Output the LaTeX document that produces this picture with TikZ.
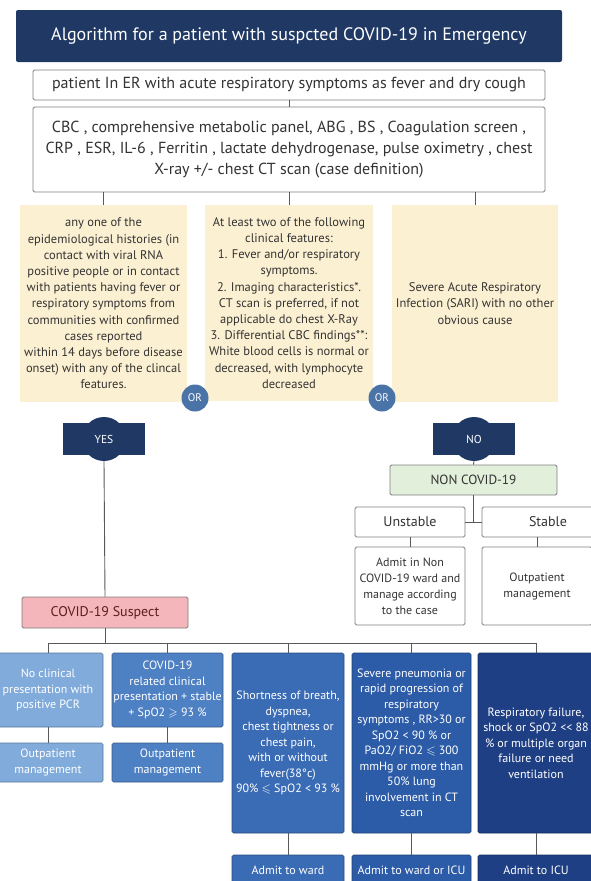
\documentclass[tikz,border=0pt]{standalone}
\usepackage{fontspec}
\usepackage{amssymb}
\setmainfont{PT Sans}
\definecolor{navy}{HTML}{1F3864}
\definecolor{framegray}{HTML}{7F7F7F}
\definecolor{linegray}{HTML}{595959}
\definecolor{textgray}{HTML}{333333}
\definecolor{sand}{HTML}{FCF0D2}
\definecolor{orblue}{HTML}{4A74A8}
\definecolor{suspectpink}{HTML}{F4B6BA}
\definecolor{suspecttext}{HTML}{5C1E1E}
\definecolor{mint}{HTML}{E2EFDA}
\definecolor{blueA}{HTML}{80ABDB}
\definecolor{blueB}{HTML}{4E80C4}
\definecolor{blueC}{HTML}{3A6BB5}
\definecolor{blueD}{HTML}{2C5BA7}
\definecolor{blueE}{HTML}{1F3F85}
\tikzset{
  wh/.style 2 args={minimum width=#1pt, minimum height=#2pt},
  plainbox/.style={draw=framegray, line width=0.8pt, fill=white, rounded corners=1.5pt, align=center, inner sep=1pt, text=textgray},
  sandbox/.style={fill=sand, align=center, inner sep=1pt, text=textgray, font=\fontsize{12.5}{16.2}\selectfont},
  navybox/.style={fill=navy, text=white, align=center, inner sep=1pt},
  orbadge/.style={circle, fill=orblue, text=white, minimum size=27pt, inner sep=0pt, font=\fontsize{11}{13}\selectfont},
  bluebox/.style={draw=#1!70!black, line width=0.6pt, fill=#1, text=white, rounded corners=1.5pt, align=center, inner sep=1pt, font=\fontsize{12}{15.5}\selectfont},
  link/.style={draw=linegray, line width=0.9pt},
}
\begin{document}
\begin{tikzpicture}[x=1pt,y=-1pt]
\useasboundingbox (0,0) rectangle (590,881);
% header
\node[navybox, wh={546}{52}, rounded corners=2pt, font=\fontsize{18}{22}\selectfont] (title) at (289,36) {Algorithm for a patient with suspcted COVID-19 in Emergency};
\node[plainbox, wh={512}{30}, font=\fontsize{16}{19}\selectfont] (er) at (289,85) {patient In ER with acute respiratory symptoms as fever and dry cough};
\node[plainbox, wh={512}{85}, font=\fontsize{16}{21}\selectfont] (tests) at (289,149.5) {CBC , comprehensive metabolic panel, ABG , BS , Coagulation screen ,\\ CRP , ESR, IL-6 , Ferritin , lactate dehydrogenase, pulse oximetry , chest\\ X-ray +/- chest CT scan (case definition)};
% criteria
\node[sandbox, wh={167}{197}] (epi) at (103.5,303.5) {any one of the\\ epidemiological histories (in\\ contact with viral RNA\\ positive people or in contact\\ with patients having fever or\\ respiratory symptoms from\\ communities with confirmed\\ cases reported\\ within 14 days before disease\\ onset) with any of the clincal\\ features.};
\node[sandbox, wh={168}{196}] (clin) at (289,303) {At least two of the following\\ clinical features:\\ 1. Fever and/or respiratory\\ symptoms.\\ 2. Imaging characteristics*.\\ CT scan is preferred, if not\\ applicable do chest X-Ray\\ 3. Differential CBC findings**:\\ White blood cells is normal or\\ decreased, with lymphocyte\\ decreased};
\node[sandbox, wh={166}{197}] (sari) at (475,303.5) {Severe Acute Respiratory\\ Infection (SARI) with no other\\ obvious cause};
\node[orbadge] (or1) at (195,398) {OR};
\node[orbadge] (or2) at (382,398) {OR};
% decisions
\node[navybox, circle, minimum size=44pt] (yesbump) at (104,439) {};
\node[navybox, wh={82}{32}, font=\fontsize{11.5}{14}\selectfont] (yes) at (yesbump) {YES};
\node[navybox, circle, minimum size=44pt] (nobump) at (474,439) {};
\node[navybox, wh={82}{32}, font=\fontsize{11.5}{14}\selectfont] (no) at (nobump) {NO};
\node[plainbox, fill=suspectpink, text=suspecttext, wh={166}{31}, font=\fontsize{14}{17}\selectfont] (suspect) at (105,612.5) {COVID-19 Suspect};
\node[plainbox, fill=mint, wh={167}{30}, font=\fontsize{13.3}{16}\selectfont] (noncovid) at (473.5,480) {NON COVID-19};
\node[plainbox, wh={110}{30}, font=\fontsize{14}{17}\selectfont] (unstable) at (410,522) {Unstable};
\node[plainbox, wh={132}{30}, font=\fontsize{14}{17}\selectfont] (stable) at (548,522) {Stable};
\node[plainbox, wh={110}{78}, font=\fontsize{12}{16}\selectfont] (admitnon) at (410,586) {Admit in Non\\ COVID-19 ward and\\ manage according\\ to the case};
\node[plainbox, wh={110}{78}, font=\fontsize{12}{16}\selectfont] (outnon) at (537,586) {Outpatient\\ management};
% severity
\node[bluebox=blueA, wh={110}{74}] (pcr) at (48,690) {No clinical\\ presentation with\\ positive PCR};
\node[bluebox=blueB, wh={111}{74}] (mild) at (167.5,690) {COVID-19\\ related clinical\\ presentation + stable\\ + SpO2 $\geqslant$ 93 \%};
\node[bluebox=blueC, wh={112}{180}] (moderate) at (288,743) {Shortness of breath,\\ dyspnea,\\ chest tightness or\\ chest pain,\\ with or without\\ fever(38°c)\\ 90\% $\leqslant$ SpO2 < 93 \%};
\node[bluebox=blueD, wh={119}{180}] (severe) at (411.5,743) {Severe pneumonia or\\ rapid progression of\\ respiratory\\ symptoms , RR>30 or\\ SpO2 < 90 \% or\\ PaO2/ FiO2 $\leqslant$ 300\\ mmHg or more than\\ 50\% lung\\ involvement in CT\\ scan};
\node[bluebox=blueE, wh={116}{180}] (critical) at (536,743) {Respiratory failure,\\ shock or SpO2 <{}< 88\\ \% or multiple organ\\ failure or need\\ ventilation};
\node[bluebox=blueA, wh={110}{39}] (outpcr) at (48,762.5) {Outpatient\\ management};
\node[bluebox=blueB, wh={111}{39}] (outmild) at (167.5,762.5) {Outpatient\\ management};
\node[bluebox=blueC, wh={112}{30}] (ward) at (288,870) {Admit to ward};
\node[bluebox=blueD, wh={119}{30}] (wardicu) at (411.5,870) {Admit to ward or ICU};
\node[bluebox=blueE, wh={116}{30}] (icu) at (536,870) {Admit to ICU};
% connectors
\coordinate (bus) at (0,643);
\draw[link] (er.south) -- (tests.north);
\foreach \n in {epi,clin,sari}
\draw[link] (tests.south -| \n.north) -- (\n.north);
\draw[link] (yesbump.south) -- (suspect.north);
\draw[link] (nobump.south) -- (noncovid.north);
\draw[link] (noncovid.south) -- (noncovid.south |- unstable.east);
\draw[link] (unstable.east) -- (stable.west);
\draw[link] (unstable.south) -- (admitnon.north);
\draw[link] (stable.south -| outnon.north) -- (outnon.north);
\draw[link] (suspect.south) -- (suspect.south |- bus);
\draw[link] (pcr.north |- bus) -- (critical.north |- bus);
\foreach \n in {pcr,mild,moderate,severe,critical}
\draw[link] (\n.north |- bus) -- (\n.north);
\foreach \a/\b in {pcr/outpcr,mild/outmild,moderate/ward,severe/wardicu,critical/icu}
\draw[link] (\a.south) -- (\b.north);
\end{tikzpicture}
\end{document}
